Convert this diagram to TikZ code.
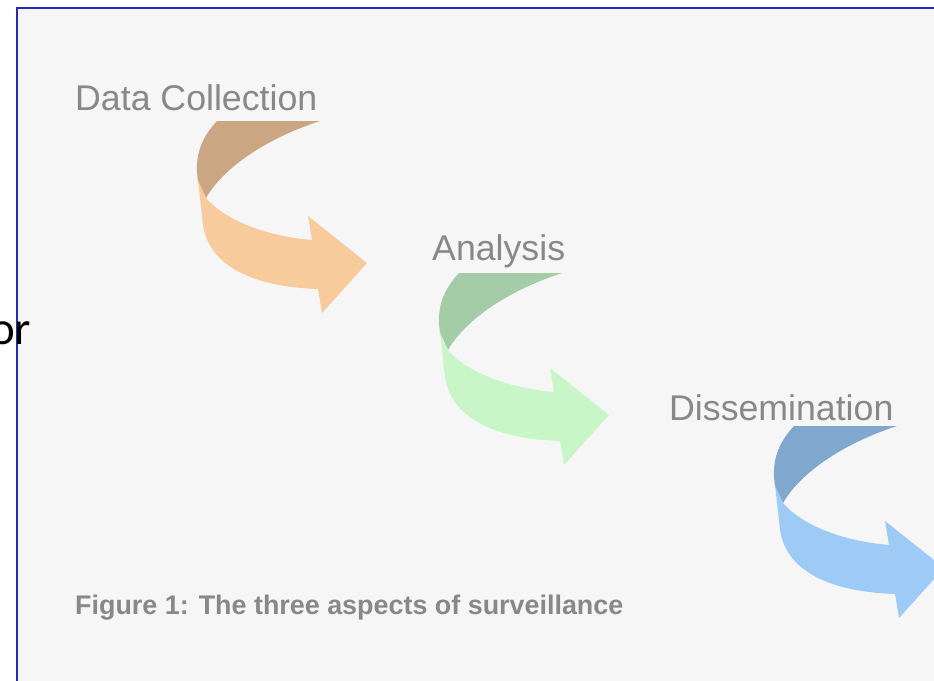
\documentclass[tikz,border=0pt]{standalone}
\usepackage{fontspec}
\setmainfont{Liberation Sans}
\newfontfamily\slidefont{Carlito}
\definecolor{paper}{HTML}{F6F6F6}
\definecolor{frame}{RGB}{42,42,180}
\definecolor{lblgray}{HTML}{888888}
\definecolor{tanback}{HTML}{CBA682}
\definecolor{tanfront}{HTML}{F8CB9C}
\definecolor{greenback}{HTML}{A4CCA7}
\definecolor{greenfront}{HTML}{C8F6C8}
\definecolor{blueback}{HTML}{80A8CE}
\definecolor{bluefront}{HTML}{9ECBF6}
\def\twistarrow[#1][#2](#3){%
  \begin{scope}[shift={(#3)}]
    \fill[#1] (320,121) -- (217,121) .. controls (203,136) and (196,152) .. (197,172) -- (198,182) -- (206,198) .. controls (222,170) and (262,140) .. (320,121) -- cycle;
    \fill[#2] (198,180) -- (203,225) .. controls (210,270) and (260,287) .. (318,289) -- (322,313) -- (367,263) -- (308,216) -- (312,240) .. controls (265,236) and (225,220) .. (206,198) -- cycle;
  \end{scope}}

\begin{document}
\begin{tikzpicture}[x=1pt,y=-1pt,
  lbl/.style={anchor=base west, inner sep=0pt, text=lblgray, font=\fontsize{35.7}{40}\selectfont}]
			%%%%% START %%%%%
			\useasboundingbox (0,0) rectangle (934,680);
			\clip (0,0) rectangle (934,680);
			
			\fill[white] (0,0) rectangle (934,680);
			\draw[line width=2.5pt, color=frame, fill=paper] (17,8) rectangle (940,690);
			
			\node[anchor=base east, inner sep=0pt, font=\slidefont\fontsize{47}{52}\selectfont] (ortext) at (31.5,344) {or};
			
			\twistarrow[tanback][tanfront](0,0)
			\twistarrow[greenback][greenfront](242,152)
			\twistarrow[blueback][bluefront](577,305)
			
			\node[lbl] (datacoll) at (75,110) {Data Collection};
			\node[lbl] (analysis) at (432,260) {Analysis};
			\node[lbl] (dissem) at (669,420) {Dissemination};
			
			\node[anchor=base west, inner sep=0pt, text=lblgray, font=\bfseries\fontsize{26.9}{30}\selectfont] (caption) at (75,614) {Figure 1: The three aspects of surveillance};
			%%%%% END %%%%%
\end{tikzpicture}
\end{document}
